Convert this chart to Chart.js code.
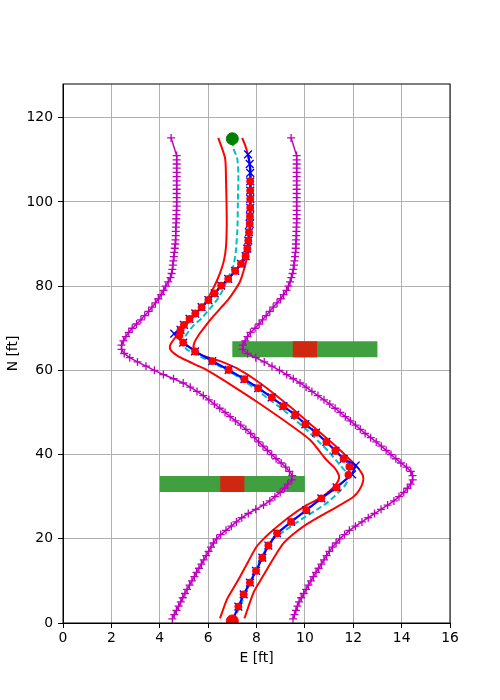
<!DOCTYPE html>
<html>
<head>
<meta charset="utf-8">
<script src="https://cdn.jsdelivr.net/npm/chart.js@4.4.0/dist/chart.umd.min.js"></script>
<style>
html,body{margin:0;padding:0;background:#fff;}
canvas{display:block;}
</style>
</head>
<body>
<canvas id="c" width="500" height="700"></canvas>
<script>
// ---- tick labels ----
const xTicks = [0, 2, 4, 6, 8, 10, 12, 14, 16];
const yTicks = [0, 20, 40, 60, 80, 100, 120];

// ---- planned path (blue, x markers) ----
const blueE = [7.00,7.25,7.47,7.73,7.98,8.24,8.49,8.85,9.43,10.06,10.68,11.31,11.95,12.10,11.60,11.26,10.89,10.46,10.02,9.60,9.11,8.63,8.07,7.50,6.85,6.17,5.46,4.97,4.60,4.86,5.00,5.23,5.47,5.73,6.01,6.27,6.54,6.83,7.12,7.36,7.55,7.62,7.66,7.69,7.72,7.73,7.74,7.74,7.74,7.74,7.74,7.72,7.65];
const blueN = [0.5,3.9,6.8,9.6,12.4,15.5,18.4,21.3,24.0,26.8,29.6,32.2,35.3,37.4,39.0,40.9,43.0,45.2,47.2,49.4,51.5,53.6,55.8,57.9,60.1,62.2,64.5,66.6,68.7,69.6,70.8,72.2,73.5,75.0,76.7,78.3,80.1,81.7,83.6,85.3,87.1,88.9,90.8,92.8,94.8,96.6,98.6,100.7,102.7,104.9,106.9,109.0,111.3];

// ---- measured points (red circles) ----
const redE = [7.25,7.47,7.73,7.98,8.24,8.49,8.85,9.43,10.06,10.68,11.31,11.80,11.84,11.60,11.26,10.89,10.46,10.02,9.60,9.11,8.63,8.07,7.50,6.85,6.17,5.46,4.97,4.81,4.86,5.00,5.23,5.47,5.73,6.01,6.27,6.54,6.83,7.12,7.36,7.55,7.62,7.66,7.69,7.72,7.73,7.74,7.74,7.74,7.74];
const redN = [3.9,6.8,9.6,12.4,15.5,18.4,21.3,24.0,26.8,29.6,32.2,35.2,37.1,39.0,40.9,43.0,45.2,47.2,49.4,51.5,53.6,55.8,57.9,60.1,62.2,64.5,66.6,68.3,69.6,70.8,72.2,73.5,75.0,76.7,78.3,80.1,81.7,83.6,85.3,87.1,88.9,90.8,92.8,94.8,96.6,98.6,100.7,102.7,104.9];

// ---- centre line (cyan dashed) ----
const cyanE = [7.00,7.11,7.32,7.52,7.73,7.94,8.14,8.42,8.69,9.11,9.52,9.93,10.49,10.95,11.35,11.65,11.80,11.75,11.50,11.00,10.55,10.07,9.60,9.11,8.55,8.00,7.45,6.90,6.40,5.94,5.50,5.11,4.97,5.05,5.20,5.42,5.72,6.05,6.35,6.60,6.85,7.04,7.14,7.21,7.23,7.25,7.20,7.04,7.00];
const cyanN = [0.5,1.5,3.9,6.7,9.4,12.2,15.0,17.7,20.1,21.7,23.3,24.9,26.9,28.7,30.8,32.6,34.2,35.5,37.2,40.6,43.2,45.9,48.2,50.6,53.0,55.4,57.6,59.7,61.2,62.5,63.8,65.0,66.5,68.0,69.3,70.8,72.3,74.5,76.6,79.0,82.3,84.7,87.9,93.4,99.7,106.9,110.4,112.8,115.0];

// ---- inner envelope (red lines) ----
const redLeftE = [6.49,6.77,7.05,7.32,7.65,8.00,8.35,8.69,9.38,10.07,10.55,10.95,11.30,11.42,11.35,11.20,10.85,10.21,9.11,8.00,7.04,6.40,5.80,5.20,4.75,4.47,4.42,4.60,4.90,5.20,5.50,5.80,6.08,6.30,6.49,6.65,6.74,6.77,6.76,6.74,6.70,6.42];
const redLeftN = [1.1,5.5,8.3,11.0,14.5,18.1,20.3,22.1,25.3,28.0,29.4,31.0,33.0,34.6,35.8,37.0,39.0,43.5,48.2,52.6,56.2,58.5,60.5,62.1,63.4,64.7,65.8,67.5,69.5,71.5,73.5,75.3,78.0,80.5,83.1,86.0,89.4,95.0,100.0,105.0,110.4,115.2];
const redRightE = [7.50,7.87,8.15,8.42,8.75,9.11,9.50,9.93,10.62,11.15,11.60,12.00,12.25,12.40,12.40,12.20,11.90,11.45,10.49,9.38,8.14,7.18,6.50,6.08,5.60,5.40,5.45,5.66,5.95,6.21,6.55,6.83,7.10,7.32,7.52,7.65,7.72,7.76,7.75,7.59,7.41];
const redRightN = [1.1,7.1,10.0,12.6,15.8,18.9,21.0,22.9,25.3,27.0,28.5,29.9,31.6,33.5,35.0,36.8,38.6,41.1,45.9,51.4,57.0,60.5,62.2,62.9,64.0,65.3,66.8,68.8,71.0,72.8,75.0,76.8,79.0,81.1,84.7,88.0,92.0,100.0,108.0,112.4,115.2];

// ---- outer envelope (magenta, + markers) ----
const magN = [1,2,3,4,5,6,7,8,9,10,11,12,13,14,15,16,17,18,19,20,21,22,23,24,25,26,27,28,29,30,31,32,33,34,35,36,37,38,39,40,41,42,43,44,45,46,47,48,49,50,51,52,53,54,55,56,57,58,59,60,61,62,63,64,65,66,67,68,69,70,71,72,73,74,75,76,77,78,79,80,81,82,83,84,85,86,87,88,89,90,91,92,93,94,95,96,97,98,99,100,101,102,103,104,105,106,107,108,109,110,111,115.2];
const magLeftE = [4.52,4.60,4.69,4.78,4.87,4.95,5.04,5.13,5.23,5.33,
5.43,5.52,5.62,5.72,5.82,5.92,6.02,6.12,6.22,6.35,
6.52,6.74,6.96,7.17,7.39,7.66,7.97,8.29,8.55,8.76,
8.98,9.16,9.29,9.46,9.48,9.36,9.21,9.02,8.81,8.63,
8.45,8.27,8.09,7.93,7.76,7.56,7.35,7.13,6.91,6.70,
6.48,6.26,6.03,5.80,5.54,5.26,4.97,4.57,4.15,3.78,
3.43,3.08,2.76,2.53,2.42,2.42,2.50,2.60,2.72,2.86,
3.04,3.22,3.38,3.54,3.68,3.82,3.94,4.06,4.16,4.25,
4.35,4.44,4.49,4.52,4.54,4.56,4.58,4.60,4.62,4.64,
4.65,4.66,4.66,4.67,4.68,4.68,4.69,4.69,4.70,4.70,
4.70,4.70,4.70,4.70,4.70,4.70,4.70,4.70,4.70,4.70,
4.70,4.47];
const magRightE = [9.51,9.57,9.63,9.69,9.76,9.85,9.95,10.05,10.15,10.25,
10.35,10.46,10.57,10.68,10.79,10.90,11.01,11.14,11.29,11.44,
11.64,11.84,12.09,12.36,12.62,12.88,13.15,13.42,13.68,13.89,
14.09,14.24,14.37,14.46,14.45,14.38,14.20,13.97,13.76,13.56,
13.36,13.16,12.95,12.72,12.49,12.29,12.09,11.88,11.67,11.46,
11.25,11.03,10.79,10.54,10.29,10.05,9.80,9.52,9.25,8.95,
8.64,8.32,7.97,7.63,7.42,7.44,7.53,7.63,7.75,7.94,
8.11,8.25,8.40,8.55,8.69,8.85,9.00,9.12,9.24,9.32,
9.39,9.44,9.49,9.52,9.55,9.57,9.59,9.61,9.62,9.63,
9.64,9.64,9.65,9.65,9.66,9.66,9.66,9.66,9.66,9.66,
9.66,9.66,9.66,9.66,9.66,9.66,9.66,9.66,9.66,9.66,
9.66,9.43];

// ---- start / target ----
const startE = [7.0], startN = [0.5];
const targetE = [7.0], targetN = [115.0];

// ---- horizontal windows (green with red core) ----
const winN = [65.0, 33.0];
const winGreenE = [[7.0, 13.0], [4.0, 10.0]];
const winRedE = [[9.5, 10.5], [6.5, 7.5]];

function pts(E, N) { return E.map((e, i) => ({ x: e, y: N[i] })); }

const datasets = [
  { data: pts(targetE, targetN), pointRadius: 6, pointBackgroundColor: '#008000', pointBorderColor: '#008000', showLine: false, order: 0 },
  { data: pts(startE, startN), pointRadius: 6, pointBackgroundColor: '#ff0000', pointBorderColor: '#ff0000', showLine: false, order: 0 },
  { data: pts(redE, redN), pointRadius: 3.9, pointBackgroundColor: '#ff0000', pointBorderColor: '#ff0000', pointBorderWidth: 0, showLine: false, order: 1 },
  { data: pts(blueE, blueN), showLine: true, borderColor: '#0000ff', borderWidth: 2.2, pointStyle: 'crossRot', pointRadius: 5.5, pointBorderColor: '#0000ff', pointBorderWidth: 1.4, order: 2 },
  { data: pts(cyanE, cyanN), showLine: true, borderColor: '#00bfbf', borderWidth: 2, borderDash: [6, 3], pointRadius: 0, tension: 0.2, order: 3 },
  { data: pts(redLeftE, redLeftN), showLine: true, borderColor: '#ff0000', borderWidth: 2, pointRadius: 0, tension: 0.25, order: 4 },
  { data: pts(redRightE, redRightN), showLine: true, borderColor: '#ff0000', borderWidth: 2, pointRadius: 0, tension: 0.25, order: 4 },
  { data: pts(magLeftE, magN), showLine: true, borderColor: '#bf00bf', borderWidth: 1.5, pointStyle: 'cross', pointRadius: 4, pointBorderColor: '#bf00bf', pointBorderWidth: 1.3, order: 5 },
  { data: pts(magRightE, magN), showLine: true, borderColor: '#bf00bf', borderWidth: 1.5, pointStyle: 'cross', pointRadius: 4, pointBorderColor: '#bf00bf', pointBorderWidth: 1.3, order: 5 }
];
winN.forEach((n, i) => {
  datasets.push({ data: pts(winRedE[i], [n, n]), showLine: true, borderColor: 'rgb(207,40,16)', borderWidth: 16, borderCapStyle: 'butt', pointRadius: 0, order: 9 });
  datasets.push({ data: pts(winGreenE[i], [n, n]), showLine: true, borderColor: 'rgb(64,160,64)', borderWidth: 16, borderCapStyle: 'butt', pointRadius: 0, order: 10 });
});

const frame = {
  id: 'frame',
  afterDraw(chart) {
    const a = chart.chartArea, ctx = chart.ctx;
    ctx.save();
    ctx.strokeStyle = '#000';
    ctx.lineWidth = 1;
    ctx.strokeRect(a.left, a.top, a.right - a.left, a.bottom - a.top);
    ctx.restore();
  }
};

const font = { family: 'DejaVu Sans', size: 13.9 };

new Chart(document.getElementById('c'), {
  type: 'scatter',
  data: { datasets },
  plugins: [frame],
  options: {
    responsive: false,
    animation: false,
    devicePixelRatio: 1,
    layout: { padding: { left: 5, right: 50, top: 84, bottom: 33 } },
    plugins: { legend: { display: false }, tooltip: { enabled: false } },
    elements: { line: { fill: false } },
    scales: {
      x: {
        type: 'linear', min: 0, max: 16,
        afterBuildTicks: s => { s.ticks = xTicks.map(v => ({ value: v })); },
        afterFit: s => { s.height = 44; },
        ticks: { font, color: '#000', padding: 2 },
        grid: { color: '#b0b0b0', lineWidth: 1, tickColor: '#000', tickLength: 5, tickWidth: 1 },
        border: { color: '#000', width: 1 },
        title: { display: true, text: 'E [ft]', font, color: '#000', padding: 0 }
      },
      y: {
        type: 'linear', min: 0, max: 128,
        afterBuildTicks: s => { s.ticks = yTicks.map(v => ({ value: v })); },
        afterFit: s => { s.width = 58; },
        ticks: { font, color: '#000', padding: 5 },
        grid: { color: '#b0b0b0', lineWidth: 1, tickColor: '#000', tickLength: 5, tickWidth: 1 },
        border: { color: '#000', width: 1 },
        title: { display: true, text: 'N [ft]', font, color: '#000', padding: 0 }
      }
    }
  }
});
</script>
</body>
</html>
